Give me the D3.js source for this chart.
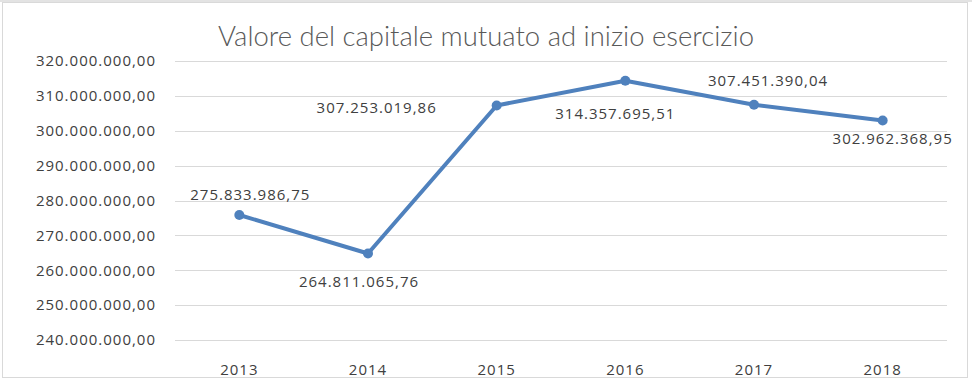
<!DOCTYPE html>
<html>
<head>
<meta charset="utf-8">
<script src="https://cdn.jsdelivr.net/npm/d3@7"></script>
<style>
  body { margin: 0; background: #ffffff; }
  svg { display: block; }
</style>
</head>
<body>
<svg id="chart"></svg>
<script>
// data
const years = ["2013", "2014", "2015", "2016", "2017", "2018"];
const values = [275833986.75, 264811065.76, 307253019.86, 314357695.51, 307451390.04, 302962368.95];
const yTicks = [240e6, 250e6, 260e6, 270e6, 280e6, 290e6, 300e6, 310e6, 320e6];
const chartTitle = "Valore del capitale mutuato ad inizio esercizio";

const width = 972;
const height = 378;

// label nudges (px, relative to each point) like the hand placed ones in the sheet
const labelNudge = [[11, -20], [-9, 28], [-120, 2], [-10, 33], [14, -24], [10, 18]];

const svg = d3.select("#chart")
  .attr("width", width)
  .attr("height", height)
  .style("font-family", "'Open Sans', 'Noto Sans', sans-serif");

// chart frame
svg.append("rect")
  .attr("x", 0).attr("y", 0)
  .attr("width", width).attr("height", 2)
  .attr("fill", "#e3e3e3");
svg.append("rect")
  .attr("x", 2.5).attr("y", 2.5)
  .attr("width", 965).attr("height", 375)
  .attr("fill", "#ffffff")
  .attr("stroke", "#d9d9d9");

const it = d3.formatLocale({decimal: ",", thousands: ".", grouping: [3], currency: ["€", ""]});
const fmt = it.format(",.2f");

const xScale = d3.scaleBand()
  .domain(years)
  .range([175, 947])
  .padding(0);

const yScale = d3.scaleLinear()
  .domain([240e6, 320e6])
  .range([340, 61]);

// gridlines
svg.append("g")
  .selectAll("line")
  .data(yTicks)
  .enter()
  .append("line")
    .attr("x1", 175)
    .attr("x2", 947)
    .attr("y1", d => Math.round(yScale(d)) + 0.5)
    .attr("y2", d => Math.round(yScale(d)) + 0.5)
    .attr("stroke", "#d9d9d9")
    .attr("stroke-width", 1);

// y axis (labels only)
const yAxis = d3.axisLeft(yScale)
  .tickValues(yTicks)
  .tickFormat(fmt)
  .tickSize(0)
  .tickPadding(0);

svg.append("g")
  .attr("transform", "translate(156,0)")
  .call(yAxis)
  .call(g => g.select(".domain").remove())
  .selectAll("text")
    .attr("fill", "#404040")
    .style("font-size", "15px")
    .style("letter-spacing", "1px")
    .style("font-family", "'Open Sans', sans-serif");

// x axis (labels only)
const xAxis = d3.axisBottom(xScale).tickSize(0).tickPadding(0);
svg.append("g")
  .attr("transform", "translate(0,364)")
  .call(xAxis)
  .call(g => g.select(".domain").remove())
  .selectAll("text")
    .attr("fill", "#404040")
    .attr("dy", "0.72em")
    .style("font-size", "15px")
    .style("letter-spacing", "1px")
    .style("font-family", "'Open Sans', sans-serif");

// line
const cx = (d, i) => xScale(years[i]) + xScale.bandwidth() / 2;
const line = d3.line()
  .x(cx)
  .y(d => yScale(d));

svg.append("path")
  .datum(values)
  .attr("d", line)
  .attr("fill", "none")
  .attr("stroke", "#4f81bd")
  .attr("stroke-width", 4)
  .attr("stroke-linejoin", "round");

svg.selectAll("circle.pt")
  .data(values)
  .enter()
  .append("circle")
    .attr("class", "pt")
    .attr("cx", cx)
    .attr("cy", d => yScale(d))
    .attr("r", 5)
    .attr("fill", "#4f81bd");

// data labels
svg.selectAll("text.lbl")
  .data(values)
  .enter()
  .append("text")
    .attr("class", "lbl")
    .attr("x", (d, i) => cx(d, i) + labelNudge[i][0])
    .attr("y", (d, i) => yScale(d) + labelNudge[i][1])
    .attr("dy", "0.36em")
    .attr("text-anchor", "middle")
    .attr("fill", "#404040")
    .style("font-size", "15px")
    .style("letter-spacing", "1px")
    .text(d => fmt(d));

// title (thin face, like Calibri Light)
svg.append("text")
  .attr("x", 218)
  .attr("y", 45.5)
  .attr("fill", "#595959")
  .attr("textLength", 536)
  .attr("lengthAdjust", "spacingAndGlyphs")
  .style("font-family", "Lato, 'Open Sans', sans-serif")
  .style("font-weight", 300)
  .style("font-size", "27px")
  .text(chartTitle);
</script>
</body>
</html>
